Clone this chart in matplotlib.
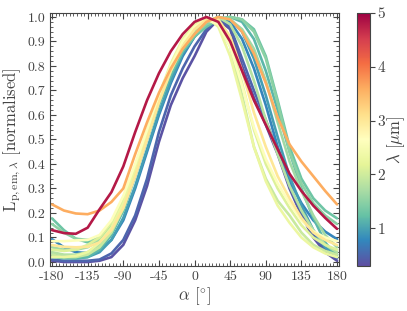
import numpy as np
import matplotlib
matplotlib.use('Agg')
import matplotlib.pyplot as plt
from matplotlib.ticker import MultipleLocator

plt.rcParams['font.family'] = 'serif'
plt.rcParams['font.serif'] = ['cmr10']
plt.rcParams['mathtext.fontset'] = 'cm'
plt.rcParams['axes.unicode_minus'] = False

# phase angle grid [deg]
alpha = [-180, -165, -150, -135, -120, -105, -90, -75, -60, -45, -30, -15, 0,
         15, 30, 45, 60, 75, 90, 105, 120, 135, 150, 165, 180]

# wavelengths [micron]
lam = [0.35, 0.5, 0.75, 0.95, 1.15, 1.3, 1.5, 1.65, 1.8, 1.95, 2.1, 2.3, 2.6, 3.0, 3.6, 4.8]

# normalised phase curves, one per wavelength
L_035 = [.005, 0, 0, 0, .005, .02, .07, .17, .31, .49, .64, .75, .84, .94, .99, .95, .80, .67, .56, .44, .30, .19, .10, .04, .005]
L_050 = [.01, .005, .005, .005, .01, .035, .09, .19, .34, .53, .68, .79, .88, .95, .99, .96, .83, .70, .58, .45, .31, .20, .11, .05, .015]
L_075 = [.093, .06, .04, .036, .05, .09, .17, .30, .45, .60, .73, .84, .92, .97, 1.0, .98, .91, .79, .64, .47, .33, .24, .17, .124, .093]
L_095 = [.03, .02, .015, .02, .04, .09, .18, .31, .46, .61, .74, .85, .92, .97, 1.0, .99, .94, .83, .68, .51, .35, .23, .13, .06, .03]
L_115 = [.02, .015, .015, .02, .05, .11, .21, .35, .50, .64, .76, .86, .93, .97, .99, 1.0, .98, .91, .78, .62, .45, .30, .18, .08, .02]
L_130 = [.178, .13, .095, .08, .09, .13, .21, .36, .52, .66, .77, .86, .92, .96, .99, 1.0, .99, .95, .84, .66, .47, .34, .26, .21, .178]
L_150 = [.155, .12, .095, .09, .10, .15, .24, .38, .53, .67, .78, .87, .93, .97, .99, 1.0, .99, .94, .83, .65, .45, .32, .24, .19, .155]
L_165 = [.06, .05, .05, .06, .09, .15, .25, .38, .53, .67, .79, .88, .94, .98, 1.0, .99, .95, .87, .74, .57, .41, .29, .19, .11, .06]
L_180 = [.04, .03, .03, .04, .07, .13, .23, .37, .52, .66, .78, .88, .95, .98, 1.0, .97, .88, .74, .58, .44, .31, .21, .13, .07, .04]
L_195 = [.03, .02, .02, .03, .06, .12, .22, .36, .51, .66, .79, .89, .96, .99, .97, .88, .68, .47, .34, .25, .19, .12, .07, .045, .03]
L_210 = [.05, .045, .05, .07, .10, .16, .26, .39, .53, .67, .79, .89, .95, .99, .98, .90, .73, .54, .40, .30, .22, .15, .10, .07, .05]
L_230 = [.02, .02, .025, .04, .08, .14, .24, .38, .53, .68, .81, .91, .97, 1.0, .96, .84, .66, .47, .33, .23, .16, .10, .06, .035, .02]
L_260 = [.085, .085, .088, .09, .11, .17, .27, .40, .54, .68, .80, .90, .96, .99, .97, .88, .72, .55, .42, .32, .24, .17, .125, .10, .085]
L_300 = [.069, .062, .06, .062, .08, .13, .22, .35, .50, .65, .78, .88, .95, .99, .99, .92, .78, .61, .47, .35, .26, .18, .12, .09, .069]
L_360 = [.235, .21, .198, .195, .21, .245, .30, .44, .57, .69, .79, .87, .93, .98, 1.0, .99, .94, .85, .73, .59, .48, .41, .35, .29, .235]
L_480 = [.13, .118, .115, .14, .215, .285, .39, .53, .66, .77, .86, .93, .98, 1.0, .98, .90, .78, .66, .56, .46, .36, .29, .23, .18, .135]

curves = [L_035, L_050, L_075, L_095, L_115, L_130, L_150, L_165, L_180,
          L_195, L_210, L_230, L_260, L_300, L_360, L_480]

cmap = plt.get_cmap('Spectral_r')
norm = matplotlib.colors.Normalize(vmin=0.3, vmax=5.0)

fig = plt.figure(figsize=(4.07, 3.11), dpi=100)
ax = fig.add_axes([0.123, 0.145, 0.71, 0.813])
cax = fig.add_axes([0.877, 0.145, 0.032, 0.813])

for l, c in zip(lam, curves):
    ax.plot(alpha, c, color=cmap(norm(l)), lw=1.9, solid_capstyle='round')

ax.set_xlim(-182.5, 182.5)
ax.set_ylim(-0.016, 1.016)
ax.set_xticks([-180, -135, -90, -45, 0, 45, 90, 135, 180])
ax.set_yticks(np.arange(0, 1.01, 0.1))
ax.xaxis.set_minor_locator(MultipleLocator(4.5))
ax.yaxis.set_minor_locator(MultipleLocator(0.02))
ax.tick_params(which='both', direction='in', top=True, right=True,
               color='#444444', labelcolor='#444444', labelsize=10)
ax.tick_params(which='major', length=4)
ax.tick_params(which='minor', length=2)
for s in ax.spines.values():
    s.set_color('#444444')

ax.set_xlabel(r'$\alpha$ [$^{\circ}$]', fontsize=12, color='#444444', labelpad=2)
ax.set_ylabel(r'L$_{\mathrm{p,em,}\lambda}$ [normalised]', fontsize=12,
              color='#444444', labelpad=3)

sm = matplotlib.cm.ScalarMappable(norm=norm, cmap=cmap)
cb = fig.colorbar(sm, cax=cax, ticks=[1, 2, 3, 4, 5])
cb.ax.tick_params(labelsize=11, color='#444444', labelcolor='#444444', pad=2)
cb.outline.set_edgecolor('#444444')
cb.set_label(r'$\lambda$ [$\mu$m]', fontsize=12, color='#444444', labelpad=0)

fig.savefig('out.png', dpi=100)
